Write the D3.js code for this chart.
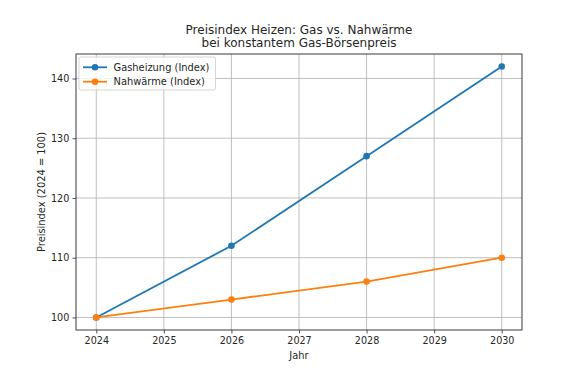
<!DOCTYPE html>
<html><head><meta charset="utf-8">
<script src="https://cdn.jsdelivr.net/npm/d3@7/dist/d3.min.js"></script>
<style>body{margin:0;background:#fff}svg{display:block}text{font-family:"DejaVu Sans",sans-serif;fill:#262626}</style>
</head><body><svg id="c" width="572" height="374"></svg>
<script>
const years = [2024, 2026, 2028, 2030];
const gas = [100, 112, 127, 142];
const nah = [100, 103, 106, 110];
const xTicks = [2024, 2025, 2026, 2027, 2028, 2029, 2030];
const yTicks = [100, 110, 120, 130, 140];
const seriesNames = ["Gasheizung (Index)", "Nahwärme (Index)"];
const titleLines = ["Preisindex Heizen: Gas vs. Nahwärme", "bei konstantem Gas-Börsenpreis"];

const svg = d3.select("#c");
const L = 76, R = 522, T = 54, B = 330;
const x = d3.scaleLinear().domain([2023.7, 2030.3]).range([L, R]);
const y = d3.scaleLinear().domain([97.9, 144.1]).range([B, T]);

const fs = 9.9, tfs = 9.6;
// grid
svg.append("g").selectAll("line").data(xTicks).join("line")
  .attr("x1", d => x(d)).attr("x2", d => x(d)).attr("y1", T).attr("y2", B)
  .attr("stroke", "#b0b0b0").attr("stroke-width", 0.8);
svg.append("g").selectAll("line").data(yTicks).join("line")
  .attr("y1", d => y(d)).attr("y2", d => y(d)).attr("x1", L).attr("x2", R)
  .attr("stroke", "#b0b0b0").attr("stroke-width", 0.8);

// axes
const xa = svg.append("g").attr("transform", `translate(0,${B})`)
  .call(d3.axisBottom(x).tickValues(xTicks).tickFormat(d3.format("d")).tickSize(3.5).tickPadding(4));
const ya = svg.append("g").attr("transform", `translate(${L},0)`)
  .call(d3.axisLeft(y).tickValues(yTicks).tickFormat(d3.format("d")).tickSize(3.5).tickPadding(3.2));
[xa, ya].forEach(g => {
  g.select(".domain").remove();
  g.selectAll(".tick line").attr("stroke", "#262626").attr("stroke-width", 0.8);
  g.selectAll(".tick text").attr("font-size", tfs).attr("font-family", "DejaVu Sans").attr("fill", "#262626");
});
svg.append("rect").attr("x", L).attr("y", T).attr("width", R - L).attr("height", B - T)
  .attr("fill", "none").attr("stroke", "#262626").attr("stroke-width", 0.9);

// series
const colors = ["#1f77b4", "#ff7f0e"];
const data = [gas, nah];
const line = d3.line().x((d, i) => x(years[i])).y(d => y(d));
data.forEach((s, k) => {
  svg.append("path").datum(s).attr("d", line).attr("fill", "none")
    .attr("stroke", colors[k]).attr("stroke-width", 1.8);
  svg.append("g").selectAll("circle").data(s).join("circle")
    .attr("cx", (d, i) => x(years[i])).attr("cy", d => y(d)).attr("r", 3.3)
    .attr("fill", colors[k]);
});

// labels
svg.append("text").attr("x", (L + R) / 2).attr("y", 358.5).attr("text-anchor", "middle")
  .attr("font-size", fs).text("Jahr");
svg.append("text").attr("transform", `translate(44.5,${(T + B) / 2}) rotate(-90)`)
  .attr("text-anchor", "middle").attr("font-size", fs).text("Preisindex (2024 = 100)");
titleLines.forEach((t, i) => {
  svg.append("text").attr("x", (L + R) / 2).attr("y", 33.5 + i * 13.6).attr("text-anchor", "middle")
    .attr("font-size", 12).text(t);
});

// legend
const lg = svg.append("g");
lg.append("rect").attr("x", 79).attr("y", 57).attr("width", 136.5).attr("height", 33).attr("rx", 2)
  .attr("fill", "#fff").attr("fill-opacity", 0.8).attr("stroke", "#cccccc").attr("stroke-width", 0.8);
seriesNames.forEach((n, k) => {
  const cy = 67.3 + k * 14.4;
  lg.append("line").attr("x1", 83).attr("x2", 107).attr("y1", cy).attr("y2", cy)
    .attr("stroke", colors[k]).attr("stroke-width", 1.8);
  lg.append("circle").attr("cx", 95).attr("cy", cy).attr("r", 3.3).attr("fill", colors[k]);
  lg.append("text").attr("x", 113.5).attr("y", cy + 3.6).attr("font-size", fs).text(n);
});
</script></body></html>
